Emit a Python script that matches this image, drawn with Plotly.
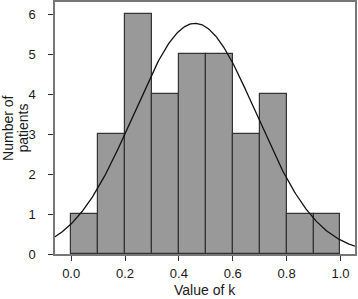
import numpy as np
import plotly.graph_objects as go

bin_centers = [0.05, 0.15, 0.25, 0.35, 0.45, 0.55, 0.65, 0.75, 0.85, 0.95]
counts = [1, 3, 6, 4, 5, 5, 3, 4, 1, 1]
bin_width = 0.1
fit_mean = 0.46
fit_sd = 0.228
x_ticks = [0.0, 0.2, 0.4, 0.6, 0.8, 1.0]
x_tick_labels = ["0.0", "0.2", "0.4", "0.6", "0.8", "1.0"]
y_ticks = [0, 1, 2, 3, 4, 5, 6]
y_title_lines = ["Number of", "patients"]

n_total = sum(counts)
xc = np.linspace(-0.07, 1.07, 300)
yc = n_total * bin_width * np.exp(-(xc - fit_mean) ** 2 / (2 * fit_sd ** 2)) / (fit_sd * np.sqrt(2 * np.pi))

fig = go.Figure()
fig.add_trace(go.Bar(x=bin_centers, y=counts, width=bin_width,
                     marker=dict(color="#999999", line=dict(color="#333333", width=1.2)),
                     showlegend=False))
fig.add_trace(go.Scatter(x=xc, y=yc, mode="lines",
                         line=dict(color="#111111", width=1.3), showlegend=False))

fam = "Liberation Sans, Arial, sans-serif"
tick_font = dict(family=fam, size=13, color="#1a1a1a")
title_font = dict(family=fam, size=14, color="#1a1a1a")
fig.update_layout(
    width=358, height=299,
    margin=dict(l=55, r=3, t=2, b=45),
    paper_bgcolor="white", plot_bgcolor="white",
    font=tick_font, bargap=0,
    xaxis=dict(range=[-0.06, 1.054], tickvals=x_ticks, ticktext=x_tick_labels,
               ticks="outside", ticklen=5, tickcolor="#333333", tickfont=tick_font,
               showline=True, mirror=True, linecolor="#777777", linewidth=1.5,
               showgrid=False, zeroline=False, automargin=False,
               ticklabelstandoff=2),
    yaxis=dict(range=[0, 6.31], tickvals=y_ticks, tickfont=tick_font,
               ticks="outside", ticklen=5, tickcolor="#333333",
               showline=True, mirror=True, linecolor="#777777", linewidth=1.5,
               showgrid=False, zeroline=False, automargin=False,
               ticklabelstandoff=10),
    annotations=[
        dict(text="Value of k", xref="paper", yref="paper", x=0.5, y=-0.1786,
             xanchor="center", yanchor="bottom", borderpad=0, showarrow=False,
             font=title_font),
        dict(text=y_title_lines[0], xref="paper", yref="paper", x=-0.157, y=0.5,
             xanchor="center", yanchor="middle", showarrow=False, textangle=-90,
             font=title_font),
        dict(text=y_title_lines[1], xref="paper", yref="paper", x=-0.108, y=0.5,
             xanchor="center", yanchor="middle", showarrow=False, textangle=-90,
             font=title_font),
    ],
)
fig.write_html("out.html", config={"displayModeBar": False},
               post_script="document.body.style.margin='0';document.body.style.overflow='hidden';")
